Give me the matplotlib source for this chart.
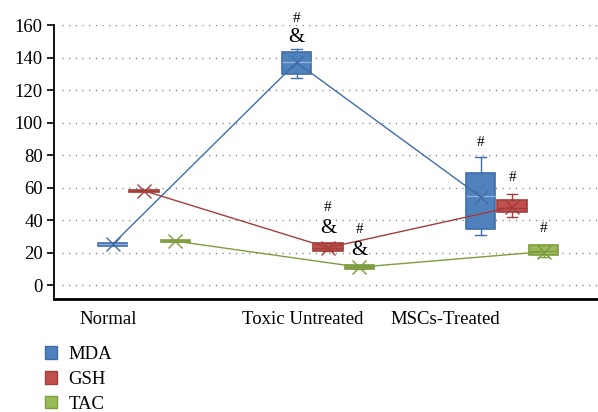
import matplotlib.pyplot as plt
from matplotlib.patches import Patch

# groups and series
groups = ['Normal', 'Toxic Untreated', 'MSCs-Treated']
series = ['MDA', 'GSH', 'TAC']
colors = ['#4F81BD', '#C0504D', '#9BBB59']
edges = ['#3F6DAA', '#A23E3B', '#7E9C40']

# box statistics per series, one value per group
q1 = {'MDA': [24.3, 130, 34.3], 'GSH': [57.3, 21.1, 44.7], 'TAC': [26.3, 10, 18.5]}
q3 = {'MDA': [25.7, 143.4, 68.7], 'GSH': [58.7, 25.6, 52.3], 'TAC': [27.7, 12.3, 24.5]}
med = {'MDA': [25, 137, 55], 'GSH': [58, 23, 47.5], 'TAC': [27, 11, 21]}
mean = {'MDA': [25, 137, 54.3], 'GSH': [58, 23, 48], 'TAC': [27, 11, 20.5]}
whislo = {'MDA': [25, 127.6, 31], 'GSH': [58, 21.1, 41.8], 'TAC': [27, 10, 17]}
whishi = {'MDA': [25, 145.4, 79], 'GSH': [58, 25.6, 56], 'TAC': [27, 12.3, 24.5]}

# significance marks: (group, series, y, text)
marks = [
    (1, 'MDA', 164, '#'), (1, 'MDA', 152.5, '&'),
    (1, 'GSH', 48, '#'), (1, 'GSH', 35, '&'),
    (1, 'TAC', 34, '#'), (1, 'TAC', 21.5, '&'),
    (2, 'MDA', 88, '#'), (2, 'GSH', 66, '#'), (2, 'TAC', 35, '#'),
]

label_pos = [-0.196, 0.864, 1.636]
offsets = [-0.171, 0, 0.171]
box_w = 0.16

plt.rcParams['font.family'] = ['Liberation Serif', 'DejaVu Serif']

fig = plt.figure(figsize=(5.98, 4.12), dpi=100)
ax = fig.add_axes([54 / 598, 1 - 299 / 412, 1 - 54 / 598, (299 - 25) / 412])

ax.set_xlim(-0.489, 2.467)
ax.set_ylim(-8.6, 160)
yt = list(range(0, 161, 20))
ax.hlines(yt, -0.445, 2.467, colors='#777777', linestyles=(0, (0.8, 4)), linewidth=1, zorder=0)

for si, s in enumerate(series):
    xs = [g + offsets[si] for g in range(len(groups))]
    stats = []
    for g in range(len(groups)):
        stats.append(dict(med=med[s][g], q1=q1[s][g], q3=q3[s][g],
                          whislo=whislo[s][g], whishi=whishi[s][g], mean=mean[s][g], fliers=[]))
    ax.bxp(stats, positions=xs, widths=box_w, patch_artist=True, showmeans=False,
           manage_ticks=False,
           boxprops=dict(facecolor=colors[si], edgecolor=edges[si], linewidth=1.2),
           medianprops=dict(color='#8FB0DA' if si == 0 else edges[si], linewidth=1),
           whiskerprops=dict(color=edges[si], linewidth=1),
           capprops=dict(color=edges[si], linewidth=1), capwidths=box_w * 0.35)
    ax.plot(xs, mean[s], color=edges[si], linewidth=1, zorder=3)
    ax.plot(xs, mean[s], linestyle='none', marker='x', markersize=10,
            markeredgewidth=1, color=edges[si], zorder=4)

for g, s, y, t in marks:
    x = g + offsets[series.index(s)]
    ax.text(x, y, t, ha='center', va='center', fontsize=11 if t == '#' else 15,
            clip_on=False)

ax.set_yticks(yt)
ax.tick_params(axis='y', direction='out', length=5, width=1.2, labelsize=13.5, pad=3)
ax.set_xticks(label_pos)
ax.set_xticklabels(groups)
ax.tick_params(axis='x', length=0, labelsize=13.5, pad=9)

for side in ['top', 'right']:
    ax.spines[side].set_visible(False)
ax.spines['left'].set_linewidth(1.3)
ax.spines['bottom'].set_linewidth(2)
ax.spines['left'].set_bounds(-8.6, 160)

handles = [Patch(facecolor=c, edgecolor=e, linewidth=1) for c, e in zip(colors, edges)]
fig.legend(handles, series, loc='upper left', bbox_to_anchor=(0.075, 1 - 346 / 412),
           frameon=False, fontsize=13.5, handlelength=0.65, handleheight=0.65,
           handletextpad=0.6, labelspacing=0.42, borderpad=0, borderaxespad=0)

fig.savefig('out.png', dpi=100)
